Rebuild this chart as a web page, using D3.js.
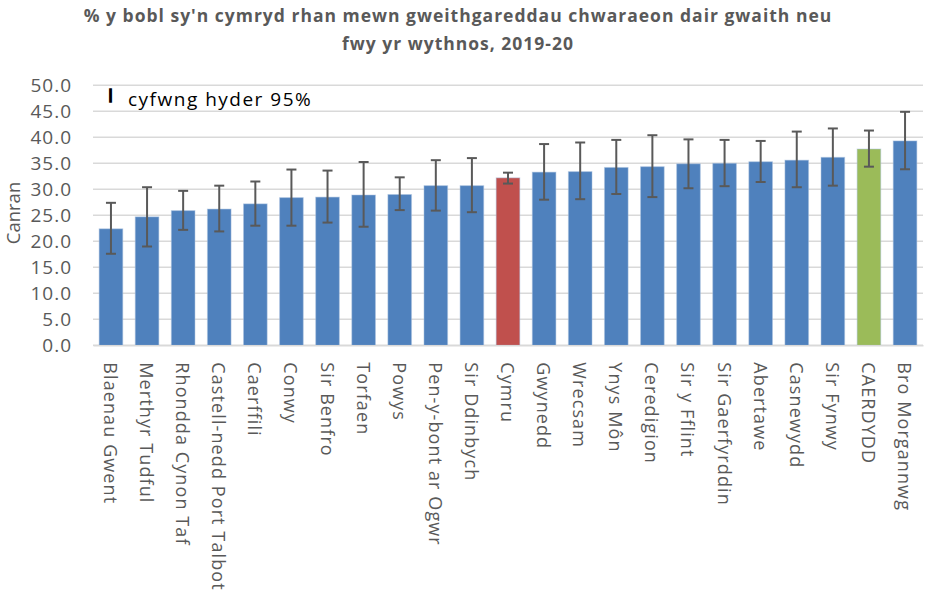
<!DOCTYPE html>
<html><head><meta charset="utf-8">
<script src="https://cdn.jsdelivr.net/npm/d3@7"></script>
<style>body{margin:0;background:#fff}svg{display:block}</style>
</head><body><svg id="c" width="926" height="591"></svg>
<script>
const categories = ["Blaenau Gwent","Merthyr Tudful","Rhondda Cynon Taf","Castell-nedd Port Talbot","Caerffili","Conwy","Sir Benfro","Torfaen","Powys","Pen-y-bont ar Ogwr","Sir Ddinbych","Cymru","Gwynedd","Wrecsam","Ynys Môn","Ceredigion","Sir y Fflint","Sir Gaerfyrddin","Abertawe","Casnewydd","Sir Fynwy","CAERDYDD","Bro Morgannwg"];
const values = [22.4,24.7,25.9,26.2,27.2,28.4,28.5,28.9,29.0,30.7,30.7,32.2,33.3,33.4,34.2,34.35,34.9,35.0,35.3,35.6,36.15,37.75,39.3];
const ciLower = [17.6,19.0,22.2,21.9,23.0,23.0,23.6,22.8,26.0,25.9,25.6,31.1,28.0,28.1,29.1,28.5,30.2,30.6,31.4,30.4,30.7,34.35,33.85];
const ciUpper = [27.4,30.4,29.7,30.7,31.5,33.8,33.6,35.25,32.3,35.6,36.0,33.2,38.7,39.0,39.5,40.4,39.6,39.5,39.3,41.1,41.7,41.3,44.9];
const yTicks = [0,5,10,15,20,25,30,35,40,45,50];
const titleLines = ["% y bobl sy'n cymryd rhan mewn gweithgareddau chwaraeon dair gwaith neu","fwy yr wythnos, 2019-20"];
const colorOf = c => c === "Cymru" ? "#C0504D" : c === "CAERDYDD" ? "#9BBB59" : "#4F81BD";

const svg = d3.select("#c");
const m = {left:93, right:3};
const W = 926;
const x = d3.scaleBand().domain(categories).range([m.left, W - m.right]).paddingInner(0.345).paddingOuter(0.17);
const y = d3.scaleLinear().domain([0,50]).range([345.3, 85.3]);
const font = "'Open Sans', 'Noto Sans', sans-serif";

// title
svg.append("g").selectAll("text").data(titleLines).join("text")
  .attr("x", 458).attr("y", (d,i) => 22 + i*27.5)
  .attr("text-anchor","middle").attr("font-family", font).attr("font-weight","bold")
  .attr("font-size", 17.5).attr("letter-spacing", 1).attr("fill","#595959").text(d => d);

// grid
svg.append("g").selectAll("line").data(yTicks).join("line")
  .attr("x1", m.left).attr("x2", W - m.right)
  .attr("y1", d => y(d)).attr("y2", d => y(d))
  .attr("stroke","#d9d9d9").attr("stroke-width",1.5);

// y axis
const ya = svg.append("g").attr("transform",`translate(${m.left},0)`)
  .call(d3.axisLeft(y).tickValues(yTicks).tickFormat(d3.format(".1f")).tickSize(0).tickPadding(21));
ya.select(".domain").remove();
ya.selectAll("text").attr("font-family", font).attr("font-size", 19).attr("letter-spacing", 1).attr("fill","#595959");

svg.append("text").attr("transform","translate(20,213) rotate(-90)")
  .attr("text-anchor","middle").attr("font-family", font).attr("font-size",18.5).attr("fill","#595959").text("Canran");

// bars
svg.append("g").selectAll("rect").data(categories).join("rect")
  .attr("x", d => x(d)).attr("width", x.bandwidth())
  .attr("y", (d,i) => y(values[i])).attr("height", (d,i) => y(0) - y(values[i]))
  .attr("fill", d => colorOf(d)).attr("stroke","#a9c1e0").attr("stroke-opacity",0.5).attr("stroke-width",1);

// error bars
const eb = svg.append("g").attr("stroke","#595959").attr("stroke-width",2);
categories.forEach((c,i) => {
  const cx = x(c) + x.bandwidth()/2;
  eb.append("line").attr("x1",cx).attr("x2",cx).attr("y1",y(ciLower[i])).attr("y2",y(ciUpper[i]));
  eb.append("line").attr("x1",cx-5).attr("x2",cx+5).attr("y1",y(ciLower[i])).attr("y2",y(ciLower[i]));
  eb.append("line").attr("x1",cx-5).attr("x2",cx+5).attr("y1",y(ciUpper[i])).attr("y2",y(ciUpper[i]));
});

// x axis
const xa = svg.append("g").attr("transform",`translate(0,${y(0)})`)
  .call(d3.axisBottom(x).tickSize(0).tickPadding(0));
xa.select(".domain").attr("stroke","#d9d9d9").attr("stroke-width",1.5);
xa.selectAll("text").attr("font-family", font).attr("font-size",18).attr("letter-spacing", 1.1).attr("fill","#595959")
  .attr("text-anchor","start").attr("dy",0)
  .attr("transform","translate(-7,17) rotate(90)");

// legend
svg.append("text").attr("x",108).attr("y",102).attr("font-family", font).attr("font-size",18)
  .attr("fill","#000").attr("stroke","#000").attr("stroke-width",1.4).text("I");
svg.append("text").attr("x",128).attr("y",106).attr("font-family", font).attr("font-size",19).attr("letter-spacing", 1.5).attr("fill","#000").text("cyfwng hyder 95%");
</script></body></html>
